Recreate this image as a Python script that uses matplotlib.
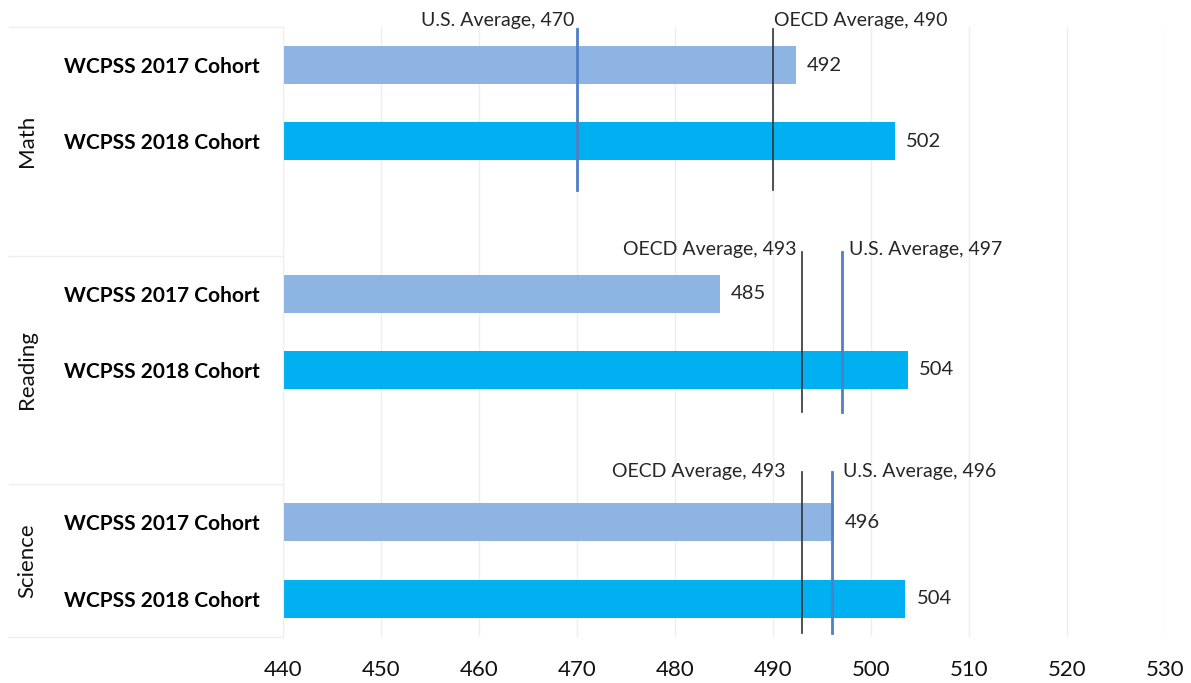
import numpy as np
import matplotlib
matplotlib.use("Agg")
import matplotlib.pyplot as plt
import matplotlib.transforms as mtransforms

plt.rcParams['font.family'] = ['Lato', 'DejaVu Sans']

subjects = ["Math", "Reading", "Science"]
cohorts = ["WCPSS 2017 Cohort", "WCPSS 2018 Cohort"]
scores_2017 = [492.3, 484.6, 496.2]
scores_2018 = [502.4, 503.8, 503.5]
us_avg = [470, 497, 496]
oecd_avg = [490, 493, 493]

col_2017 = "#8EB4E3"
col_2018 = "#00B0F0"
col_us = "#4F7FC6"
col_oecd = "#333333"

fig = plt.figure(figsize=(11.91, 6.83), dpi=100)
ax = fig.add_axes([283 / 1191, 1 - 636.7 / 683, (1165 - 283) / 1191, (636.7 - 27) / 683])

# each subject takes 3 slots: 2017, 2018, gap (science has no trailing gap)
group_start = np.array([0, 3, 6])
y17 = group_start
y18 = group_start + 1

ax.barh(y17, np.array(scores_2017) - 440, left=440, height=0.5, color=col_2017, zorder=2)
ax.barh(y18, np.array(scores_2018) - 440, left=440, height=0.5, color=col_2018, zorder=2)

for y, v in zip(np.concatenate([y17, y18]), scores_2017 + scores_2018):
    ax.annotate(f"{v:.0f}", (v, y), xytext=(8, 0), textcoords="offset points",
                ha="left", va="center", fontsize=14.5, color="#262626")

# average lines
spans = [(-0.47, 1.64), (2.45, 4.55), (5.34, 7.45)]
for i, (top, bot) in enumerate(spans):
    ax.plot([us_avg[i], us_avg[i]], [top, bot], color=col_us, lw=2, zorder=3, clip_on=False)
    ax.plot([oecd_avg[i], oecd_avg[i]], [top, bot], color=col_oecd, lw=1.2, zorder=3, clip_on=False)

ann_kw = dict(fontsize=14, color="#262626", va="center", annotation_clip=False)
# Math: US label left, OECD label right
ax.annotate(f"U.S. Average, {us_avg[0]}", (us_avg[0], -0.58), xytext=(-2, 0),
            textcoords="offset points", ha="right", **ann_kw)
ax.annotate(f"OECD Average, {oecd_avg[0]}", (oecd_avg[0], -0.58), xytext=(1, 0),
            textcoords="offset points", ha="left", **ann_kw)
# Reading / Science: OECD label left, US label right
ax.annotate(f"OECD Average, {oecd_avg[1]}", (oecd_avg[1], 2.42), xytext=(-4, 0),
            textcoords="offset points", ha="right", **ann_kw)
ax.annotate(f"U.S. Average, {us_avg[1]}", (us_avg[1], 2.42), xytext=(5, 0),
            textcoords="offset points", ha="left", **ann_kw)
ax.annotate(f"OECD Average, {oecd_avg[2]}", (oecd_avg[2], 5.33), xytext=(-12, 0),
            textcoords="offset points", ha="right", **ann_kw)
ax.annotate(f"U.S. Average, {us_avg[2]}", (us_avg[2], 5.33), xytext=(8, 0),
            textcoords="offset points", ha="left", **ann_kw)

ax.set_xlim(440, 530)
ax.set_xticks(np.arange(440, 531, 10))
ax.set_ylim(7.5, -0.5)
ax.set_yticks(np.concatenate([y17, y18]))
ax.set_yticklabels(cohorts[:1] * 3 + cohorts[1:] * 3, fontsize=15, fontweight="bold")
ax.tick_params(axis="y", length=0, pad=17, colors="#000000")
ax.tick_params(axis="x", length=0, pad=17, labelsize=16, colors="#111111")

ax.grid(axis="x", color="#EEEEEE", lw=1, zorder=0)
ax.set_axisbelow(True)
for s in ["top", "right", "bottom"]:
    ax.spines[s].set_visible(False)
ax.spines["left"].set_color("#EEEEEE")

# group separators on the left
trans = mtransforms.blended_transform_factory(fig.transFigure, ax.transData)
ax.hlines([-0.5, 2.5, 5.5, 7.5], 8 / 1191, 283 / 1191, transform=trans,
          color="#EEEEEE", lw=1, clip_on=False)
for name, yc in zip(subjects, [1.0, 4.0, 6.5]):
    ax.text(27 / 1191, yc, name, transform=trans, rotation=90, ha="center",
            va="center", fontsize=16, color="#111111")

fig.savefig("out.png", dpi=100)
